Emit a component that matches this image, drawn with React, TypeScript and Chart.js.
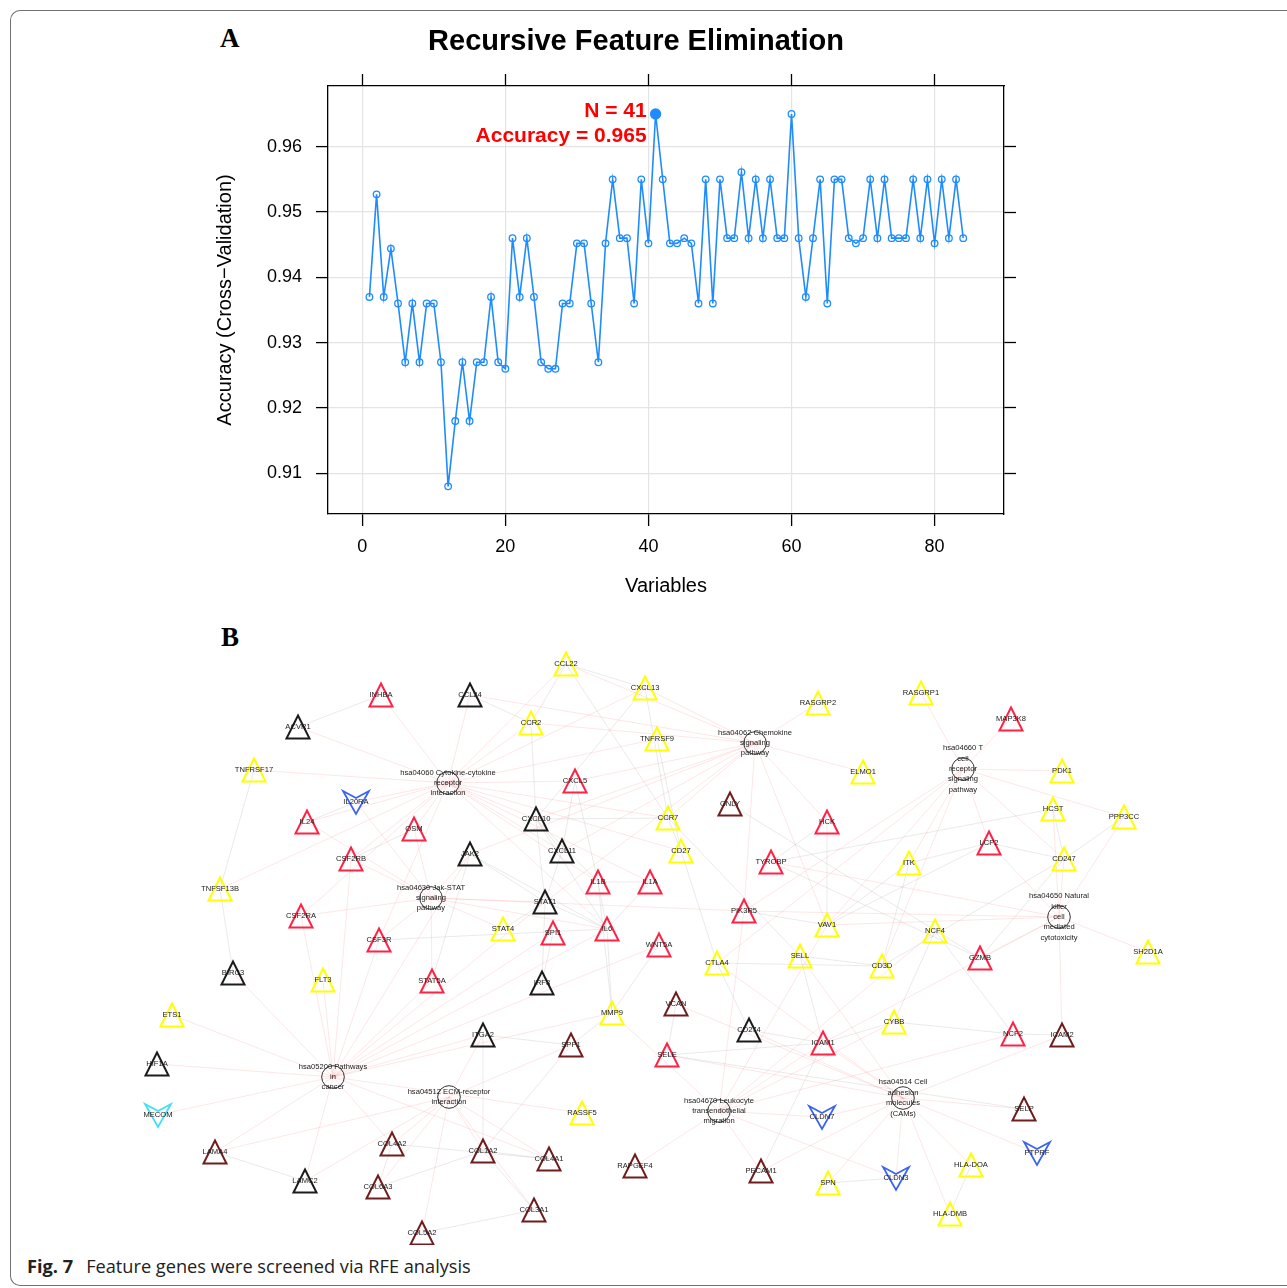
import React, { useEffect, useRef } from 'react';
import { Chart, registerables } from 'chart.js';

Chart.register(...registerables);

const FONT = '"Liberation Sans", Arial, Helvetica, sans-serif';

// ---------------- Panel A: RFE accuracy curve ----------------
const variableCounts = [
  1, 2, 3, 4, 5, 6, 7, 8, 9, 10, 11, 12, 13, 14, 15, 16, 17, 18, 19, 20,
  21, 22, 23, 24, 25, 26, 27, 28, 29, 30, 31, 32, 33, 34, 35, 36, 37, 38, 39, 40,
  41, 42, 43, 44, 45, 46, 47, 48, 49, 50, 51, 52, 53, 54, 55, 56, 57, 58, 59, 60,
  61, 62, 63, 64, 65, 66, 67, 68, 69, 70, 71, 72, 73, 74, 75, 76, 77, 78, 79, 80,
  81, 82, 83, 84,
];
const cvAccuracy = [
  0.937, 0.9527, 0.937, 0.9444, 0.936, 0.927, 0.936, 0.927, 0.936, 0.936,
  0.927, 0.908, 0.918, 0.927, 0.918, 0.927, 0.927, 0.937, 0.927, 0.926,
  0.946, 0.937, 0.946, 0.937, 0.927, 0.926, 0.926, 0.936, 0.936, 0.9452,
  0.9452, 0.936, 0.927, 0.9452, 0.955, 0.946, 0.946, 0.936, 0.955, 0.9452,
  0.965, 0.955, 0.9452, 0.9452, 0.946, 0.9452, 0.936, 0.955, 0.936, 0.955,
  0.946, 0.946, 0.9561, 0.946, 0.955, 0.946, 0.955, 0.946, 0.946, 0.965,
  0.946, 0.937, 0.946, 0.955, 0.936, 0.955, 0.955, 0.946, 0.9452, 0.946,
  0.955, 0.946, 0.955, 0.946, 0.946, 0.946, 0.955, 0.946, 0.955, 0.9452,
  0.955, 0.946, 0.955, 0.946,
];
const bestN = 41;
const bestAccuracy = 0.965;
const xTickStep = 20;
const yTickStep = 0.01;
const xRange = [-4.79, 89.7];
const yRange = [0.90377, 0.96929];

// ---------------- Panel B: gene / pathway network ----------------
const redNodes = ['INHBA', 'IL24', 'OSM', 'CSF2RB', 'CSF2RA', 'CSF3R', 'CXCL5', 'HCK', 'TYROBP', 'IL1B', 'IL1A', 'PIK3R5', 'SPI1', 'IL6', 'WNT5A', 'MAP3K8', 'LCP2', 'STAT5A', 'SELE', 'ICAM1', 'GZMB', 'NCF2'];
const redX = [381, 307, 414, 351, 301, 379, 575, 827, 771, 598, 650, 744, 553, 607, 659, 1011, 989, 432, 667, 823, 980, 1013];
const redY = [695, 822, 829, 859, 916, 940, 781, 822, 862, 882, 882, 911, 933, 929, 945, 719, 843, 981, 1055, 1043, 958, 1034];

const yellowNodes = ['TNFRSF17', 'TNFSF13B', 'CCL22', 'CXCL13', 'RASGRP2', 'CCR2', 'TNFRSF9', 'CCR7', 'CD27', 'VAV1', 'STAT4', 'RASGRP1', 'ELMO1', 'PDK1', 'HCST', 'PPP3CC', 'ITK', 'CD247', 'NCF4', 'SH2D1A', 'FLT3', 'ETS1', 'CTLA4', 'SELL', 'MMP9', 'RASSF5', 'CD3D', 'CYBB', 'HLA-DOA', 'SPN', 'HLA-DMB'];
const yellowX = [254, 220, 566, 645, 818, 531, 657, 668, 681, 827, 503, 921, 863, 1062, 1053, 1124, 909, 1064, 935, 1148, 323, 172, 717, 800, 612, 582, 882, 894, 971, 828, 950];
const yellowY = [770, 889, 664, 688, 703, 723, 739, 818, 851, 925, 929, 693, 772, 771, 809, 817, 863, 859, 931, 952, 980, 1015, 963, 956, 1013, 1113, 966, 1022, 1165, 1183, 1214];

const blackNodes = ['CCL24', 'ACVR1', 'JAK2', 'CXCL10', 'CXCL11', 'STAT1', 'BIRC3', 'ITGA2', 'HIF1A', 'LAMC2', 'IRF8', 'CD274'];
const blackX = [470, 298, 470, 536, 562, 545, 233, 483, 157, 305, 542, 749];
const blackY = [695, 727, 854, 819, 851, 902, 973, 1035, 1064, 1181, 983, 1030];

const brownNodes = ['GNLY', 'LAMA4', 'COL4A2', 'COL1A2', 'COL6A3', 'COL5A2', 'VCAN', 'SPP1', 'COL4A1', 'RAPGEF4', 'PECAM1', 'COL3A1', 'ICAM2', 'SELP'];
const brownX = [730, 215, 392, 483, 378, 422, 676, 571, 549, 635, 761, 534, 1062, 1024];
const brownY = [804, 1152, 1144, 1151, 1187, 1233, 1004, 1045, 1159, 1166, 1171, 1210, 1035, 1109];

const blueNodes = ['IL20RA', 'CLDN7', 'PTPRF', 'CLDN3'];
const blueX = [356, 822, 1037, 896];
const blueY = [802, 1117, 1153, 1178];

const cyanNodes = ['MECOM'];
const cyanX = [158];
const cyanY = [1115];

const pathwayIds = ['hsa04060', 'hsa04630', 'hsa04062', 'hsa04660', 'hsa04650', 'hsa05200', 'hsa04512', 'hsa04670', 'hsa04514'];
const pathwayLabels = [
  ['hsa04060 Cytokine-cytokine', 'receptor', 'interaction'],
  ['hsa04630 Jak-STAT', 'signaling', 'pathway'],
  ['hsa04062 Chemokine', 'signaling', 'pathway'],
  ['hsa04660 T', 'cell', 'receptor', 'signaling', 'pathway'],
  ['hsa04650 Natural', 'killer', 'cell', 'mediated', 'cytotoxicity'],
  ['hsa05200 Pathways', 'in', 'cancer'],
  ['hsa04512 ECM-receptor', 'interaction'],
  ['hsa04670 Leukocyte', 'transendothelial', 'migration'],
  ['hsa04514 Cell', 'adhesion', 'molecules', '(CAMs)'],
];
const pathwayX = [448, 431, 755, 963, 1059, 333, 449, 719, 903];
const pathwayY = [783, 898, 743, 769, 917, 1077, 1097, 1111, 1098];

const pathwayMembers = [
  ['INHBA', 'CCL24', 'ACVR1', 'TNFRSF17', 'IL20RA', 'IL24', 'OSM', 'CSF2RB', 'TNFSF13B', 'CSF2RA', 'CSF3R', 'CCL22', 'CXCL13', 'CCR2', 'TNFRSF9', 'CXCL5', 'CXCL10', 'CCR7', 'CXCL11', 'CD27', 'IL1B', 'IL1A', 'IL6'],
  ['IL20RA', 'IL24', 'OSM', 'JAK2', 'CSF2RB', 'CSF2RA', 'CSF3R', 'STAT1', 'STAT4', 'STAT5A', 'IL6', 'PIK3R5'],
  ['CCL22', 'CXCL13', 'CCR2', 'CXCL5', 'CXCL10', 'CXCL11', 'CCR7', 'CCL24', 'JAK2', 'STAT1', 'HCK', 'VAV1', 'PIK3R5', 'RASGRP2', 'ELMO1'],
  ['RASGRP1', 'MAP3K8', 'PDK1', 'LCP2', 'ITK', 'CD247', 'VAV1', 'CTLA4', 'CD3D', 'PPP3CC', 'PIK3R5'],
  ['HCST', 'PPP3CC', 'LCP2', 'CD247', 'TYROBP', 'VAV1', 'GZMB', 'SH2D1A', 'ICAM1', 'ICAM2', 'PIK3R5'],
  ['BIRC3', 'FLT3', 'ETS1', 'HIF1A', 'MECOM', 'LAMA4', 'LAMC2', 'STAT5A', 'IL6', 'JAK2', 'STAT1', 'CSF2RA', 'CSF3R', 'WNT5A', 'MMP9', 'ITGA2', 'COL4A2', 'COL4A1', 'SPI1', 'RASSF5', 'CSF2RB'],
  ['ITGA2', 'COL4A2', 'COL1A2', 'COL6A3', 'COL5A2', 'COL4A1', 'COL3A1', 'LAMA4', 'LAMC2', 'SPP1'],
  ['VAV1', 'ICAM1', 'PECAM1', 'CLDN7', 'CLDN3', 'NCF4', 'NCF2', 'CYBB', 'RAPGEF4', 'MMP9', 'PIK3R5'],
  ['SELE', 'SELL', 'SELP', 'ICAM1', 'ICAM2', 'PECAM1', 'CD274', 'CLDN7', 'CLDN3', 'PTPRF', 'HLA-DOA', 'HLA-DMB', 'SPN', 'CTLA4', 'VCAN'],
];

const proteinLinks = [
  ['IL6', 'IL1B'], ['IL6', 'IL1A'], ['IL6', 'STAT1'], ['IL6', 'JAK2'], ['IL6', 'CXCL10'], ['IL6', 'MMP9'],
  ['IL1B', 'IL1A'], ['IL1B', 'CXCL10'], ['IL1B', 'MMP9'], ['IL1B', 'CXCL5'], ['STAT1', 'JAK2'], ['STAT1', 'CXCL10'],
  ['STAT1', 'CXCL11'], ['CXCL10', 'CXCL11'], ['CXCL10', 'CCR7'], ['CCL22', 'CCR7'], ['CXCL13', 'CCR7'],
  ['CCR2', 'CCL22'], ['CXCL13', 'CXCL10'], ['ICAM1', 'SELE'], ['ICAM1', 'SELL'], ['ICAM1', 'PECAM1'],
  ['SELE', 'SELP'], ['MMP9', 'SPP1'], ['SPP1', 'COL1A2'], ['COL1A2', 'COL3A1'], ['COL3A1', 'COL5A2'],
  ['COL4A1', 'COL4A2'], ['COL1A2', 'COL4A1'], ['COL6A3', 'COL1A2'], ['COL4A2', 'COL6A3'], ['CD247', 'CD3D'],
  ['CD3D', 'CTLA4'], ['CD3D', 'ITK'], ['LCP2', 'VAV1'], ['VAV1', 'ITK'], ['LCP2', 'ITK'], ['HCST', 'TYROBP'],
  ['TYROBP', 'HCK'], ['NCF4', 'NCF2'], ['NCF2', 'CYBB'], ['NCF4', 'CYBB'], ['GZMB', 'CD247'], ['HLA-DOA', 'HLA-DMB'],
  ['CD274', 'CTLA4'], ['SPI1', 'IRF8'], ['IRF8', 'STAT1'], ['STAT4', 'STAT1'], ['STAT5A', 'JAK2'],
  ['TNFSF13B', 'TNFRSF17'], ['CD27', 'CCR7'], ['TNFRSF9', 'CD27'], ['GNLY', 'GZMB'], ['CCR7', 'SELL'],
  ['PIK3R5', 'VAV1'], ['CXCL13', 'CCL22'], ['CCR2', 'CXCL10'], ['CXCL5', 'CXCL11'], ['VCAN', 'SELE'],
  ['SPP1', 'ITGA2'], ['ITGA2', 'COL1A2'], ['LAMA4', 'LAMC2'], ['BIRC3', 'TNFSF13B'], ['ICAM1', 'CD274'],
  ['TYROBP', 'GZMB'], ['HCK', 'VAV1'], ['CD247', 'LCP2'], ['HCST', 'CD247'], ['PPP3CC', 'CD247'],
  ['CTLA4', 'CD27'], ['SELL', 'CD3D'], ['CYBB', 'ICAM1'], ['WNT5A', 'MMP9'], ['IL6', 'CSF3R'], ['OSM', 'CSF2RB'],
  ['IL24', 'IL20RA'], ['CCL24', 'CCR2'], ['ACVR1', 'INHBA'], ['SPN', 'CLDN3'], ['NCF2', 'ICAM2'],
];

type Group = 'red' | 'yellow' | 'black' | 'brown' | 'blue' | 'cyan' | 'pathway';

const groupColor: Record<Group, string> = {
  red: '#ff2346',
  yellow: '#ffff00',
  black: '#1c1c1c',
  brown: '#6e1e1e',
  blue: '#3a64f0',
  cyan: '#3fe0f5',
  pathway: '#333333',
};

interface NetNode { name: string; group: Group; x: number; y: number; lines: string[] }

function buildNodes(): NetNode[] {
  const out: NetNode[] = [];
  const add = (names: string[], xs: number[], ys: number[], group: Group) =>
    names.forEach((n, i) => out.push({ name: n, group, x: xs[i], y: ys[i], lines: [n] }));
  add(redNodes, redX, redY, 'red');
  add(yellowNodes, yellowX, yellowY, 'yellow');
  add(blackNodes, blackX, blackY, 'black');
  add(brownNodes, brownX, brownY, 'brown');
  add(blueNodes, blueX, blueY, 'blue');
  add(cyanNodes, cyanX, cyanY, 'cyan');
  pathwayIds.forEach((id, i) =>
    out.push({ name: id, group: 'pathway', x: pathwayX[i], y: pathwayY[i], lines: pathwayLabels[i] })
  );
  return out;
}

function makeTriangle(color: string): HTMLCanvasElement {
  const c = document.createElement('canvas');
  c.width = 28;
  c.height = 28;
  const g = c.getContext('2d')!;
  g.strokeStyle = color;
  g.lineWidth = 2;
  g.lineJoin = 'miter';
  g.beginPath();
  g.moveTo(14, 2.5);
  g.lineTo(25.5, 25.5);
  g.lineTo(2.5, 25.5);
  g.closePath();
  g.stroke();
  return c;
}

function makeArrow(color: string): HTMLCanvasElement {
  const c = document.createElement('canvas');
  c.width = 30;
  c.height = 28;
  const g = c.getContext('2d')!;
  g.strokeStyle = color;
  g.lineWidth = 1.8;
  g.lineJoin = 'miter';
  g.beginPath();
  g.moveTo(2, 3);
  g.lineTo(15, 10);
  g.lineTo(28, 3);
  g.lineTo(15, 26);
  g.closePath();
  g.stroke();
  return c;
}

function RFEChart() {
  const ref = useRef<HTMLCanvasElement | null>(null);
  useEffect(() => {
    if (!ref.current) return;
    const blue = '#1e8cff';
    const bestLabelPlugin = {
      id: 'bestLabel',
      afterDatasetsDraw(chart: any) {
        const { ctx, scales } = chart;
        const px = scales.x.getPixelForValue(bestN);
        const py = scales.y.getPixelForValue(bestAccuracy);
        ctx.save();
        ctx.fillStyle = '#ff0000';
        ctx.font = `bold 21px ${FONT}`;
        ctx.textAlign = 'right';
        ctx.textBaseline = 'middle';
        ctx.fillText(`N = ${bestN}`, px - 9, py - 3);
        ctx.fillText(`Accuracy = ${bestAccuracy.toFixed(3)}`, px - 9, py + 22);
        ctx.restore();
      },
    };
    const axisBorder = { display: true, color: '#000', width: 1.3 };
    const chart = new Chart(ref.current, {
      type: 'line',
      data: {
        datasets: [
          {
            data: variableCounts.map((v, i) => ({ x: v, y: cvAccuracy[i] })),
            borderColor: blue,
            borderWidth: 1.6,
            tension: 0,
            pointStyle: 'circle',
            pointRadius: (c: any) => (variableCounts[c.dataIndex] === bestN ? 5 : 3.3),
            pointBorderWidth: 1.3,
            pointBorderColor: blue,
            pointBackgroundColor: (c: any) =>
              variableCounts[c.dataIndex] === bestN ? blue : 'rgba(255,255,255,0)',
          },
        ],
      },
      options: {
        animation: false,
        responsive: false,
        maintainAspectRatio: false,
        events: [],
        layout: { padding: 0 },
        plugins: {
          legend: { display: false },
          tooltip: { enabled: false },
          title: {
            display: true,
            text: 'Recursive Feature Elimination',
            color: '#000',
            font: { family: FONT, size: 29, weight: 'bold' },
            padding: { top: 13, bottom: 10 },
          },
        },
        scales: {
          x: {
            type: 'linear',
            position: 'bottom',
            min: xRange[0],
            max: xRange[1],
            afterFit: (s: any) => { s.height = 98; },
            ticks: { stepSize: xTickStep, includeBounds: false, color: '#000', font: { family: FONT, size: 18 }, padding: 10, maxRotation: 0 },
            grid: { color: '#e4e4e4', lineWidth: 1.2, tickColor: '#000', tickLength: 12, tickWidth: 1.3 },
            border: axisBorder,
            title: { display: true, text: 'Variables', color: '#000', font: { family: FONT, size: 20 }, padding: { top: 0, bottom: 14 } },
          },
          x2: {
            type: 'linear',
            position: 'top',
            min: xRange[0],
            max: xRange[1],
            afterFit: (s: any) => { s.height = 16.2; },
            ticks: { display: false, stepSize: xTickStep, includeBounds: false },
            grid: { drawOnChartArea: false, tickColor: '#000', tickLength: 12, tickWidth: 1.3 },
            border: axisBorder,
          },
          y: {
            type: 'linear',
            position: 'left',
            min: yRange[0],
            max: yRange[1],
            afterFit: (s: any) => { s.width = 138; },
            ticks: {
              stepSize: yTickStep,
              includeBounds: false,
              color: '#000',
              font: { family: FONT, size: 18 },
              padding: 14,
              callback: (v: any) => Number(v).toFixed(2),
            },
            grid: { color: '#e4e4e4', lineWidth: 1.2, tickColor: '#000', tickLength: 12, tickWidth: 1.3 },
            border: axisBorder,
            title: { display: true, text: 'Accuracy (Cross\u2212Validation)', color: '#000', font: { family: FONT, size: 20 }, padding: { top: 23, bottom: 0 } },
          },
          y2: {
            type: 'linear',
            position: 'right',
            min: yRange[0],
            max: yRange[1],
            afterFit: (s: any) => { s.width = 78; },
            ticks: { display: false, stepSize: yTickStep, includeBounds: false },
            grid: { drawOnChartArea: false, tickColor: '#000', tickLength: 12, tickWidth: 1.3 },
            border: axisBorder,
          },
        },
      } as any,
      plugins: [bestLabelPlugin],
    });
    return () => chart.destroy();
  }, []);
  return (
    <canvas
      ref={ref}
      width={892}
      height={600}
      style={{ position: 'absolute', left: 190, top: 12, width: 892, height: 600, display: 'block' }}
    />
  );
}

function NetworkChart() {
  const ref = useRef<HTMLCanvasElement | null>(null);
  useEffect(() => {
    if (!ref.current) return;
    const nodes = buildNodes();
    const index: Record<string, number> = {};
    nodes.forEach((n, i) => { index[n.name] = i; });
    const icons: Record<string, HTMLCanvasElement> = {
      red: makeTriangle(groupColor.red),
      yellow: makeTriangle(groupColor.yellow),
      black: makeTriangle(groupColor.black),
      brown: makeTriangle(groupColor.brown),
      blue: makeArrow(groupColor.blue),
      cyan: makeArrow(groupColor.cyan),
    };

    const edgePlugin = {
      id: 'edges',
      beforeDatasetsDraw(chart: any) {
        const { ctx, scales } = chart;
        const sx = scales.x;
        const sy = scales.y;
        const line = (a: NetNode, b: NetNode, color: string) => {
          ctx.strokeStyle = color;
          ctx.beginPath();
          ctx.moveTo(sx.getPixelForValue(a.x), sy.getPixelForValue(a.y));
          ctx.lineTo(sx.getPixelForValue(b.x), sy.getPixelForValue(b.y));
          ctx.stroke();
        };
        ctx.save();
        ctx.lineWidth = 1;
        proteinLinks.forEach(([a, b]) => {
          if (index[a] === undefined || index[b] === undefined) return;
          line(nodes[index[a]], nodes[index[b]], 'rgba(150,150,150,0.2)');
        });
        pathwayMembers.forEach((members, p) => {
          const hub = nodes[index[pathwayIds[p]]];
          members.forEach((m) => {
            if (index[m] === undefined) return;
            line(hub, nodes[index[m]], 'rgba(250,140,140,0.22)');
          });
        });
        ctx.restore();
      },
    };

    const labelPlugin = {
      id: 'nodeLabels',
      afterDatasetsDraw(chart: any) {
        const { ctx, scales } = chart;
        ctx.save();
        ctx.fillStyle = '#1a1a1a';
        ctx.font = `7.6px ${FONT}`;
        ctx.textAlign = 'center';
        ctx.textBaseline = 'middle';
        nodes.forEach((n) => {
          const px = scales.x.getPixelForValue(n.x);
          const py = scales.y.getPixelForValue(n.y);
          const lh = 10.4;
          const start = py - ((n.lines.length - 1) * lh) / 2;
          n.lines.forEach((t, k) => ctx.fillText(t, px, start + k * lh));
        });
        ctx.restore();
      },
    };

    const chart = new Chart(ref.current, {
      type: 'scatter',
      data: {
        datasets: [
          {
            data: nodes.map((n) => ({ x: n.x, y: n.y })),
            clip: false,
            pointStyle: (c: any) => {
              const n = nodes[c.dataIndex];
              return n && n.group !== 'pathway' ? icons[n.group] : 'circle';
            },
            pointRadius: (c: any) => (nodes[c.dataIndex]?.group === 'pathway' ? 11.3 : 12),
            pointBorderWidth: 1,
            pointBorderColor: groupColor.pathway,
            pointBackgroundColor: 'rgba(255,255,255,0)',
          } as any,
        ],
      },
      options: {
        animation: false,
        responsive: false,
        maintainAspectRatio: false,
        events: [],
        layout: { padding: 0, autoPadding: false },
        plugins: { legend: { display: false }, tooltip: { enabled: false } },
        scales: {
          x: { type: 'linear', display: false, min: 130, max: 1190 },
          y: { type: 'linear', display: false, min: 645, max: 1245, reverse: true },
        },
      } as any,
      plugins: [edgePlugin, labelPlugin],
    });
    return () => chart.destroy();
  }, []);
  return (
    <canvas
      ref={ref}
      width={1060}
      height={600}
      style={{ position: 'absolute', left: 130, top: 645, width: 1060, height: 600, display: 'block' }}
    />
  );
}

export default function App() {
  return (
    <div style={{ position: 'absolute', left: 0, top: 0, width: 1287, height: 1288, overflow: 'hidden', background: '#fff' }}>
      <div
        style={{
          position: 'absolute',
          left: 10,
          top: 10,
          width: 1277,
          height: 1276,
          boxSizing: 'border-box',
          borderTop: '1.5px solid #707070',
          borderLeft: '1.5px solid #707070',
          borderBottom: '1.5px solid #707070',
          borderTopLeftRadius: 10,
          borderBottomLeftRadius: 10,
        }}
      />
      <div style={{ position: 'absolute', left: 220, top: 24.7, fontFamily: '"Liberation Serif", "Times New Roman", serif', fontWeight: 'bold', fontSize: 27, lineHeight: '27px' }}>A</div>
      <div style={{ position: 'absolute', left: 221, top: 624.4, fontFamily: '"Liberation Serif", "Times New Roman", serif', fontWeight: 'bold', fontSize: 27, lineHeight: '27px' }}>B</div>
      <RFEChart />
      <NetworkChart />
      <div style={{ position: 'absolute', left: 27, top: 1253.5, fontFamily: '"Open Sans", sans-serif', fontSize: 18.2, whiteSpace: 'nowrap', color: '#222' }}>
        <span style={{ fontWeight: 'bold' }}>Fig. 7</span>
        <span style={{ marginLeft: 13 }}>Feature genes were screened via RFE analysis</span>
      </div>
    </div>
  );
}
